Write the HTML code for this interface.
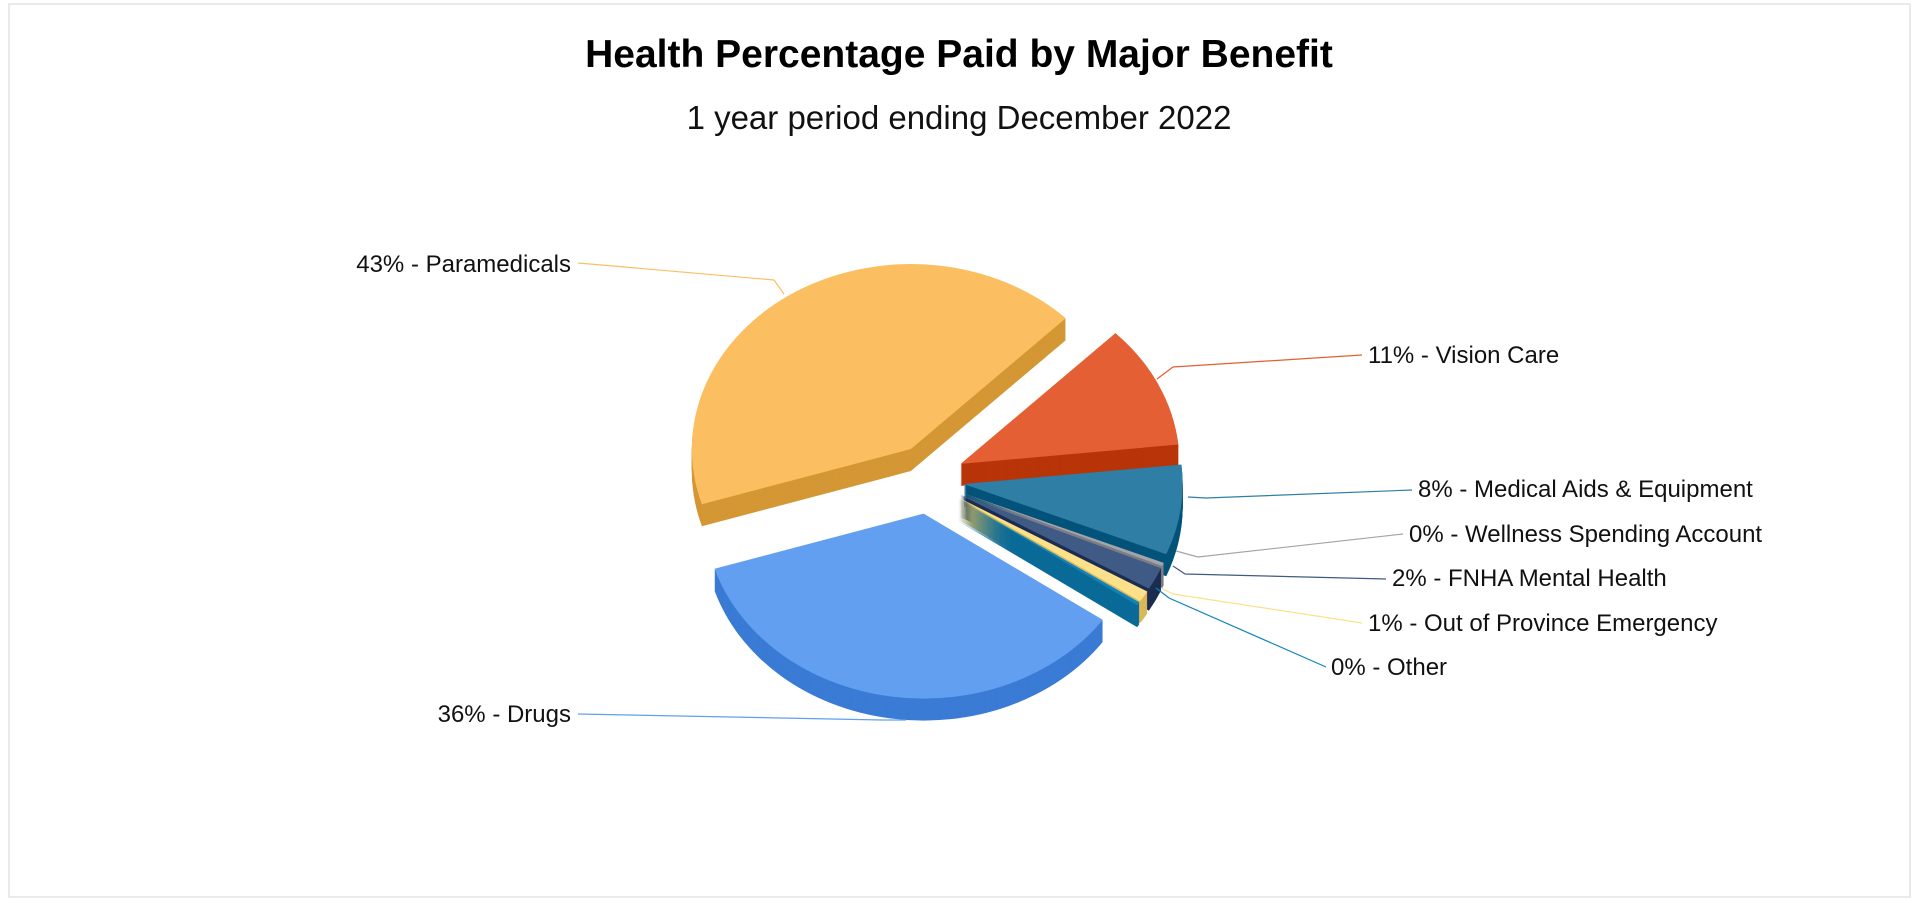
<!DOCTYPE html>
<html><head><meta charset="utf-8"><style>
html,body{margin:0;padding:0;background:#fff;}
svg{display:block;font-family:"Liberation Sans",Arial,sans-serif;}
</style></head><body>
<svg id="chart" width="1920" height="900" viewBox="0 0 1920 900">
<rect x="9" y="4" width="1901" height="893" fill="#fff" stroke="#e4e4e4" stroke-width="1.5"/>
<text x="959" y="67" text-anchor="middle" font-size="39" font-weight="bold" fill="#000">Health Percentage Paid by Major Benefit</text>
<text x="959" y="129" text-anchor="middle" font-size="33" fill="#111">1 year period ending December 2022</text>
<g id="slices"></g>
<g id="labels"></g>
</svg>
<script>
const categories = ["Vision Care","Medical Aids & Equipment","Wellness Spending Account","FNHA Mental Health","Out of Province Emergency","Other","Drugs","Paramedicals"];
const values = [11, 8, 0.3, 2, 1, 0.3, 36, 43];
const pctLabels = ["11%","8%","0%","2%","1%","0%","36%","43%"];
const topColors = ["#e45f33","#2e7ea5","#a3a3ab","#3f5a84","#fde08a","#0f84bb","#629ff0","#fbbf61"];
const sideColors = ["#b83508","#03537a","#7d7d86","#1b2d50","#d9b85a","#0a6a98","#3a7bd5","#d49735"];
// label layout (positions, not data)
const labelLayout = [
 {x:1368,y:363,anchor:"start",pts:[[1362,355],[1173,367],[1157,379]]},
 {x:1418,y:497,anchor:"start",pts:[[1412,490],[1206,498],[1188,497]]},
 {x:1409,y:542,anchor:"start",pts:[[1403,534],[1198,557],[1176,551]]},
 {x:1392,y:586,anchor:"start",pts:[[1386,579],[1185,574],[1173,566]]},
 {x:1368,y:631,anchor:"start",pts:[[1362,623],[1173,594],[1161,588]]},
 {x:1331,y:675,anchor:"start",pts:[[1326,667],[1169,598],[1156,588]]},
 {x:571,y:722,anchor:"end",pts:[[578,714],[882,720],[906,720]]},
 {x:571,y:272,anchor:"end",pts:[[578,263],[774,280],[784,294]]}
];
const NS="http://www.w3.org/2000/svg";
const cx=929, cy=479, rx=219, ry=185, depth=22, explode=35, startDeg=45;
const total=values.reduce((a,b)=>a+b,0);
function pt(deg,ox,oy,dy){const a=deg*Math.PI/180;return [cx+ox+rx*Math.sin(a), cy+oy-ry*Math.cos(a)+dy];}
function slicePath(a0,a1,ox,oy,dy){
  const p0=pt(a0,ox,oy,dy), p1=pt(a1,ox,oy,dy);
  const large=(a1-a0)>180?1:0;
  return `M${cx+ox},${cy+oy+dy} L${p0[0]},${p0[1]} A${rx},${ry} 0 ${large} 1 ${p1[0]},${p1[1]} Z`;
}
const g=document.getElementById('slices');
let acc=startDeg;
const items=values.map((v,i)=>{const a0=acc;const a1=acc+v/total*360;acc=a1;const mid=(a0+a1)/2;
  const m=mid*Math.PI/180;return {i,a0,a1,ox:explode*Math.sin(m),oy:-explode*Math.cos(m),sortY:-Math.cos(m)};});
items.slice().sort((a,b)=>a.sortY-b.sortY).forEach(s=>{
  const grp=document.createElementNS(NS,'g');
  
  
  for(let k=depth;k>=1;k--){
    const p=document.createElementNS(NS,'path');
    p.setAttribute('d',slicePath(s.a0,s.a1,s.ox,s.oy,k));
    p.setAttribute('fill',sideColors[s.i]);
    
    
    grp.appendChild(p);
  }
  const t=document.createElementNS(NS,'path');
  t.setAttribute('d',slicePath(s.a0,s.a1,s.ox,s.oy,0));
  t.setAttribute('fill',topColors[s.i]);
  
  
  grp.appendChild(t);
  g.appendChild(grp);
});
const lg=document.getElementById('labels');
labelLayout.forEach((L,i)=>{
  const pl=document.createElementNS(NS,'polyline');
  pl.setAttribute('points',L.pts.map(p=>p.join(',')).join(' '));
  pl.setAttribute('fill','none');
  pl.setAttribute('stroke',topColors[i]);
  pl.setAttribute('stroke-width','1.2');
  
  
  lg.appendChild(pl);
  const tx=document.createElementNS(NS,'text');
  tx.setAttribute('x',L.x);tx.setAttribute('y',L.y);
  tx.setAttribute('text-anchor',L.anchor);
  tx.setAttribute('font-size','24');
  tx.setAttribute('fill','#111');
  tx.textContent=pctLabels[i]+' - '+categories[i];
  
  
  lg.appendChild(tx);
});
</script>
</body></html>
